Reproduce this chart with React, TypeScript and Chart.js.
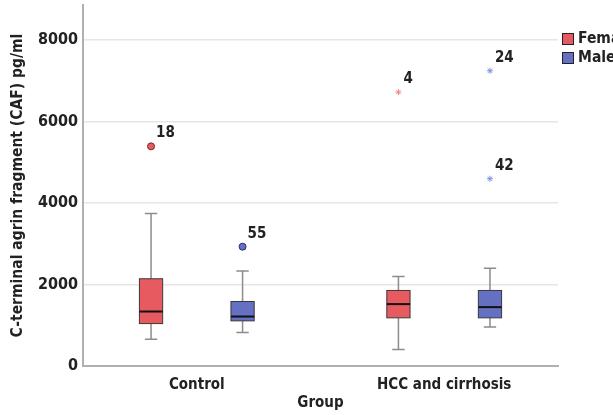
import React, { useEffect, useRef } from "react";
import { Chart, registerables } from "chart.js";

Chart.register(...registerables);

// ---- data ----
const groups = ["Control", "HCC and cirrhosis"];
const sexes = ["Female", "Male"];

const femaleMin = [657, 402];
const femaleQ1 = [1041, 1182];
const femaleMedian = [1337, 1519];
const femaleQ3 = [2141, 1854];
const femaleMax = [3741, 2199];

const maleMin = [820, 960];
const maleQ1 = [1108, 1182];
const maleMedian = [1214, 1445];
const maleQ3 = [1583, 1854];
const maleMax = [2331, 2396];

// outliers (circle) and extremes (star)
const femaleOutlierGroup = [0];
const femaleOutlierValue = [5390];
const femaleOutlierId = ["18"];
const femaleExtremeGroup = [1];
const femaleExtremeValue = [6720];
const femaleExtremeId = ["4"];
const maleOutlierGroup = [0];
const maleOutlierValue = [2929];
const maleOutlierId = ["55"];
const maleExtremeGroup = [1, 1];
const maleExtremeValue = [7245, 4596];
const maleExtremeId = ["24", "42"];

const yTicks = [0, 2000, 4000, 6000, 8000];

// ---- styles ----
const FONT = "'DejaVu Sans Condensed', 'Liberation Sans Narrow', Arial, sans-serif";
const RED = "#e65a60";
const BLUE = "#6570c2";
const RED_STAR = "#f08a8e";
const BLUE_STAR = "#7f91dd";
const SEX_OFFSET = 0.185;
const BOX_HALF = 0.047;
const CAP_HALF = 0.025;

const stats = [
  { min: femaleMin, q1: femaleQ1, med: femaleMedian, q3: femaleQ3, max: femaleMax, color: RED, off: -SEX_OFFSET },
  { min: maleMin, q1: maleQ1, med: maleMedian, q3: maleQ3, max: maleMax, color: BLUE, off: SEX_OFFSET },
];

const pts = (g: number[], v: number[], off: number) => g.map((gi, i) => ({ x: gi + off, y: v[i] }));

const boxPlugin = {
  id: "boxes",
  beforeDatasetsDraw(chart: any) {
    const ctx = chart.ctx;
    const xs = chart.scales.x;
    const ys = chart.scales.y;
    ctx.save();
    stats.forEach((s) => {
      groups.forEach((_, g) => {
        const cx = xs.getPixelForValue(g + s.off);
        const hw = xs.getPixelForValue(g + s.off + BOX_HALF) - cx;
        const cw = xs.getPixelForValue(g + s.off + CAP_HALF) - cx;
        const yMin = ys.getPixelForValue(s.min[g]);
        const yQ1 = ys.getPixelForValue(s.q1[g]);
        const yMed = ys.getPixelForValue(s.med[g]);
        const yQ3 = ys.getPixelForValue(s.q3[g]);
        const yMax = ys.getPixelForValue(s.max[g]);
        ctx.strokeStyle = "#8c8c8c";
        ctx.lineWidth = 1.5;
        ctx.beginPath();
        ctx.moveTo(cx, yMin);
        ctx.lineTo(cx, yQ1);
        ctx.moveTo(cx, yQ3);
        ctx.lineTo(cx, yMax);
        ctx.moveTo(cx - cw, yMin);
        ctx.lineTo(cx + cw, yMin);
        ctx.moveTo(cx - cw, yMax);
        ctx.lineTo(cx + cw, yMax);
        ctx.stroke();
        ctx.fillStyle = s.color;
        ctx.fillRect(cx - hw, yQ3, hw * 2, yQ1 - yQ3);
        ctx.strokeStyle = "#3a3a3a";
        ctx.lineWidth = 1;
        ctx.strokeRect(cx - hw, yQ3, hw * 2, yQ1 - yQ3);
        ctx.strokeStyle = "#111";
        ctx.lineWidth = 2;
        ctx.beginPath();
        ctx.moveTo(cx - hw, yMed);
        ctx.lineTo(cx + hw, yMed);
        ctx.stroke();
      });
    });
    ctx.restore();
  },
  afterDatasetsDraw(chart: any) {
    const ctx = chart.ctx;
    ctx.save();
    ctx.font = `bold 15px ${FONT}`;
    ctx.fillStyle = "#222";
    ctx.textBaseline = "middle";
    ctx.textAlign = "left";
    chart.data.datasets.forEach((ds: any, i: number) => {
      const meta = chart.getDatasetMeta(i);
      meta.data.forEach((el: any, j: number) => {
        ctx.fillText(ds.ids[j], el.x + 5, el.y - 13);
      });
    });
    ctx.restore();
  },
  afterDraw(chart: any) {
    const ctx = chart.ctx;
    const ca = chart.chartArea;
    ctx.save();
    const x0 = ca.right + 4;
    [RED, BLUE].forEach((c, i) => {
      const y = 33 + i * 19;
      ctx.fillStyle = c;
      ctx.fillRect(x0, y, 11, 11);
      ctx.strokeStyle = "#222";
      ctx.lineWidth = 1;
      ctx.strokeRect(x0 + 0.5, y + 0.5, 11, 11);
      ctx.fillStyle = "#222";
      ctx.font = `bold 15.5px ${FONT}`;
      ctx.textBaseline = "middle";
      ctx.fillText(sexes[i], x0 + 16, y + 6);
    });
    ctx.restore();
  },
};

export default function App() {
  const ref = useRef<HTMLCanvasElement>(null);
  useEffect(() => {
    if (!ref.current) return;
    const chart = new Chart(ref.current, {
      type: "scatter",
      data: {
        datasets: [
          { data: pts(femaleOutlierGroup, femaleOutlierValue, -SEX_OFFSET), ids: femaleOutlierId, pointStyle: "circle", radius: 3.5, backgroundColor: RED, borderColor: "#7a2a2a", borderWidth: 1 } as any,
          { data: pts(femaleExtremeGroup, femaleExtremeValue, -SEX_OFFSET), ids: femaleExtremeId, pointStyle: "star", radius: 3, backgroundColor: RED_STAR, borderColor: RED_STAR, borderWidth: 1 } as any,
          { data: pts(maleOutlierGroup, maleOutlierValue, SEX_OFFSET), ids: maleOutlierId, pointStyle: "circle", radius: 3.5, backgroundColor: BLUE, borderColor: "#2a2f6a", borderWidth: 1 } as any,
          { data: pts(maleExtremeGroup, maleExtremeValue, SEX_OFFSET), ids: maleExtremeId, pointStyle: "star", radius: 3, backgroundColor: BLUE_STAR, borderColor: BLUE_STAR, borderWidth: 1 } as any,
        ],
      },
      options: {
        animation: false,
        responsive: false,
        layout: { padding: { left: 0, right: 55, top: 5, bottom: 0 } },
        plugins: { legend: { display: false }, tooltip: { enabled: false } },
        scales: {
          x: {
            type: "linear",
            min: -0.46,
            max: 1.46,
            afterBuildTicks: (s: any) => {
              s.ticks = groups.map((_, i) => ({ value: i }));
            },
            afterFit: (s: any) => {
              s.height = 49;
              s.paddingLeft = 0;
              s.paddingRight = 0;
            },
            grid: { display: false, drawTicks: false },
            border: { display: true, color: "#b0b0b0", width: 2 },
            ticks: {
              padding: 10,
              color: "#222",
              font: { family: FONT, size: 15, weight: "bold" },
              callback: (v: any) => groups[v] ?? "",
            },
            title: {
              display: true,
              text: "Group",
              color: "#222",
              padding: { top: 0, bottom: 3 },
              font: { family: FONT, size: 15, weight: "bold" },
            },
          },
          y: {
            type: "linear",
            min: 0,
            max: 8859,
            afterBuildTicks: (s: any) => {
              s.ticks = yTicks.map((v) => ({ value: v }));
            },
            afterFit: (s: any) => {
              s.width = 83;
              s.paddingTop = 0;
              s.paddingBottom = 0;
            },
            grid: { color: "#e6e6e6", lineWidth: 1.5, drawTicks: false },
            border: { display: true, color: "#b0b0b0", width: 2 },
            ticks: {
              padding: 5,
              color: "#222",
              font: { family: FONT, size: 16, weight: "bold" },
              callback: (v: any) => String(v),
            },
            title: {
              display: true,
              text: "C-terminal agrin fragment (CAF) pg/ml",
              color: "#222",
              padding: { top: 9, bottom: 0 },
              font: { family: FONT, size: 15.5, weight: "bold" },
            },
          },
        },
      } as any,
      plugins: [boxPlugin],
    });
    return () => chart.destroy();
  }, []);
  return (
    <div style={{ position: "fixed", left: 0, top: 0, width: 613, height: 415, overflow: "hidden", background: "#fff" }}>
      <canvas ref={ref} width={613} height={415} />
    </div>
  );
}
